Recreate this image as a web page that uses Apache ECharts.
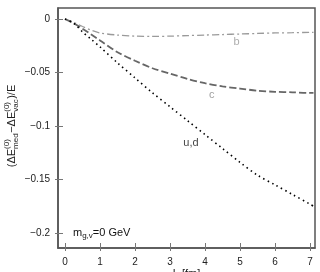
<!DOCTYPE html>
<html><head><meta charset="utf-8">
<script src="https://cdn.jsdelivr.net/npm/echarts@6/dist/echarts.min.js"></script>
<style>html,body{margin:0;padding:0;background:#fff}#c{width:320px;height:272px}</style>
</head><body><div id="c"></div>
<script>
var L = [0, 0.25, 0.5, 0.75, 1, 1.5, 2, 2.5, 3, 3.5, 4, 4.5, 5, 5.5, 6, 6.5, 7, 7.1];
var seriesB = [0, -0.003, -0.007, -0.0105, -0.013, -0.015, -0.016, -0.0163, -0.016, -0.0155, -0.015, -0.0145, -0.014, -0.0135, -0.013, -0.0128, -0.0125, -0.0125];
var seriesC = [0, -0.004, -0.009, -0.0145, -0.02, -0.031, -0.039, -0.046, -0.051, -0.056, -0.06, -0.063, -0.065, -0.067, -0.068, -0.0685, -0.069, -0.069];
var seriesUD = [0, -0.004, -0.012, -0.019, -0.026, -0.041, -0.055, -0.069, -0.082, -0.095, -0.108, -0.121, -0.134, -0.146, -0.155, -0.164, -0.173, -0.175];
var xTicks = [0, 1, 2, 3, 4, 5, 6, 7];
var yTicks = [0, -0.05, -0.1, -0.15, -0.2];
var labelB = [4.9, -0.021], labelC = [4.19, -0.071], labelUD = [3.6, -0.116];

var FONT = "'Liberation Sans', Arial, Helvetica, sans-serif";
function pairs(v){ return L.map(function(x,i){ return [x, v[i]]; }); }
function fmt(v){ var s = String(v); return s.charAt(0) === '-' ? '\u2212' + s.slice(1) : s; }

var chart = echarts.init(document.getElementById('c'), null, {renderer:'canvas'});
var xmin = -0.2, xmax = 7.143, ymin = -0.214, ymax = 0.0103;
var axisCol = '#555';
function xAx(main){
  return {
    type:'value', min:xmin, max:xmax, position:'bottom',
    name: main ? 'L [fm]' : '', nameLocation:'middle', nameGap:20, nameMoveOverlap:false,
    nameTextStyle:{fontFamily:FONT, fontSize:11, color:'#222', verticalAlign:'top'},
    axisLine:{show:main, onZero:false, lineStyle:{color:axisCol, width:1.5}},
    axisTick:{show:true, inside:main, length: main?5:3, customValues:xTicks, lineStyle:{color:'#777', width:1}},
    axisLabel:{show:main, customValues:xTicks, margin:9, fontFamily:FONT, fontSize:10, color:'#222', formatter:fmt},
    splitLine:{show:false}
  };
}
function yAx(main){
  return {
    type:'value', min:ymin, max:ymax, position:'left',
    axisLine:{show:main, onZero:false, lineStyle:{color:axisCol, width:1.5}},
    axisTick:{show:true, inside:main, length: main?5:3, customValues:yTicks, lineStyle:{color:'#777', width:1}},
    axisLabel:{show:main, customValues:yTicks, margin:8, fontFamily:FONT, fontSize:10, color:'#222', formatter:fmt},
    splitLine:{show:false}
  };
}
function lbl(pos, text, col){
  return {type:'scatter', xAxisIndex:0, yAxisIndex:0, symbolSize:0, silent:true, data:[pos],
    label:{show:true, position:'inside', formatter:text, color:col, fontFamily:FONT, fontSize:11}};
}
chart.setOption({
  animation:false,
  grid:{left:58, top:8, right:5, bottom:24, show:true, borderColor:axisCol, borderWidth:1.5, containLabel:false, outerBoundsMode:'none'},
  xAxis:[xAx(true), xAx(false)],
  yAxis:[yAx(true), yAx(false)],
  series:[
    {type:'line', data:pairs(seriesB), showSymbol:false, smooth:0.3, lineStyle:{color:'#9a9a9a', width:1.3, type:[7,3,2,3]}},
    {type:'line', data:pairs(seriesC), showSymbol:false, smooth:0.3, lineStyle:{color:'#666', width:1.8, type:[7,3]}},
    {type:'line', data:pairs(seriesUD), showSymbol:false, smooth:0.3, lineStyle:{color:'#000', width:1.6, type:[1.5,3.5]}},
    lbl(labelB, 'b', '#999'),
    lbl(labelC, 'c', '#888'),
    lbl(labelUD, 'u,d', '#111')
  ]
});

var ctx = document.createElement('canvas').getContext('2d');
function tw(t, fs){ ctx.font = fs + 'px ' + FONT; return ctx.measureText(t).width; }
var els = [];
(function(){
  var x = 73, y = 233;
  var parts = [['m',11,0],['g,v',8,3],['=0 GeV',11,0]];
  parts.forEach(function(p){
    els.push({type:'text', x:x, y:y + p[2], style:{text:p[0], fontSize:p[1], fontFamily:FONT, fill:'#111', verticalAlign:'middle'}});
    x += tw(p[0], p[1]);
  });
})();
(function(){
  var fs = 11, sfs = 8;
  var pieces = [
    {t:'(\u0394E'}, {sup:'(0)', sub:'med'},
    {t:'\u2212\u0394E'}, {sup:'(0)', sub:'vac'},
    {t:')/E'}
  ];
  var total = 0;
  pieces.forEach(function(p){ p.w = p.t ? tw(p.t, fs) : Math.max(tw(p.sup, sfs), tw(p.sub, sfs)) + 0.5; total += p.w; });
  var children = [], x = -total/2;
  pieces.forEach(function(p){
    if (p.t) children.push({type:'text', x:x, y:0, style:{text:p.t, fontSize:fs, fontFamily:FONT, fill:'#222', verticalAlign:'middle'}});
    else {
      children.push({type:'text', x:x, y:-5, style:{text:p.sup, fontSize:sfs, fontFamily:FONT, fill:'#222', verticalAlign:'middle'}});
      children.push({type:'text', x:x, y:4, style:{text:p.sub, fontSize:sfs, fontFamily:FONT, fill:'#222', verticalAlign:'middle'}});
    }
    x += p.w;
  });
  els.push({type:'group', x:12, y:126, rotation:Math.PI/2, children:children});
})();
chart.setOption({graphic:els});
</script></body></html>
